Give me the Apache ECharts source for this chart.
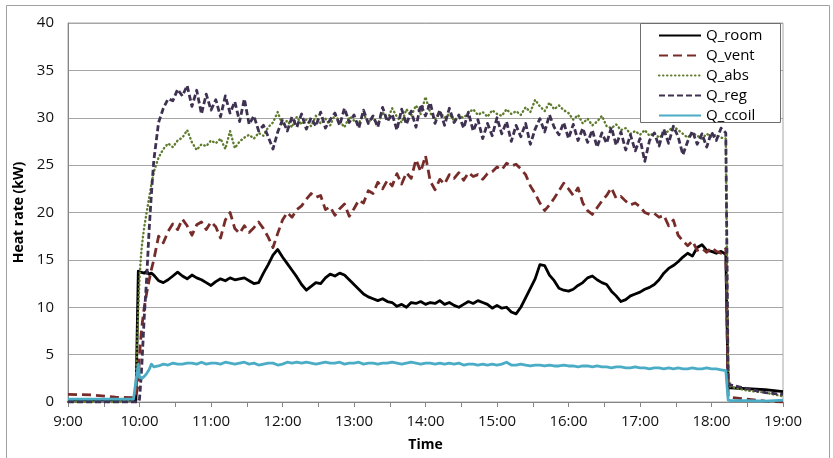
<!DOCTYPE html>
<html>
<head>
<meta charset="utf-8">
<script src="https://cdn.jsdelivr.net/npm/echarts@6/dist/echarts.min.js"></script>
<style>
html,body{margin:0;padding:0;background:#fff;}
#chart{width:833px;height:458px;}
</style>
</head>
<body>
<div id="chart"></div>
<script>
// Time in minutes after 9:00
var times = [
  0,20,40,55,57,58,59,60,61,62,64,66,68,70,
  72,76,80,84,88,92,96,100,104,108,
  112,116,120,124,128,132,136,140,144,148,
  152,156,160,164,168,172,176,180,184,188,
  192,196,200,204,208,212,216,220,224,228,
  232,236,240,244,248,252,256,260,264,268,
  272,276,280,284,288,292,296,300,304,308,
  312,316,320,324,328,332,336,340,344,348,
  352,356,360,364,368,372,376,380,384,388,
  392,396,400,404,408,412,416,420,424,428,
  432,436,440,444,448,452,456,460,464,468,
  472,476,480,484,488,492,496,500,504,508,
  512,516,520,524,528,532,536,540,544,548,
  552,
  554,556,570,585,600
];
var tickLabels = ['9:00','10:00','11:00','12:00','13:00','14:00','15:00','16:00','17:00','18:00','19:00'];
var seriesNames = ['Q_room','Q_vent','Q_abs','Q_reg','Q_ccoil'];

var qRoom = [
  0.2,0.2,0.2,0.2,0.2,0.3,13.8,13.8,13.7,13.9,13.6,13.8,13.5,13.6,
  13.4,12.8,12.6,12.9,13.3,13.7,13.3,13.0,13.4,13.1,
  12.9,12.6,12.3,12.7,13.0,12.8,13.1,12.9,13.0,13.1,
  12.8,12.5,12.6,13.6,14.5,15.5,16.1,15.3,14.6,13.9,
  13.2,12.4,11.8,12.2,12.6,12.5,13.1,13.5,13.3,13.6,
  13.4,12.9,12.4,11.9,11.4,11.1,10.9,10.7,10.9,10.6,
  10.5,10.1,10.3,10.0,10.5,10.4,10.6,10.3,10.5,10.4,
  10.7,10.3,10.5,10.2,10.0,10.3,10.6,10.4,10.7,10.5,
  10.3,9.9,10.2,9.9,10.0,9.5,9.3,10.0,11.0,12.0,
  13.0,14.5,14.4,13.4,12.8,12.0,11.8,11.7,11.9,12.3,
  12.6,13.1,13.3,12.9,12.6,12.4,11.7,11.2,10.6,10.8,
  11.2,11.4,11.6,11.9,12.1,12.4,12.9,13.6,14.1,14.4,
  14.8,15.3,15.7,15.4,16.3,16.6,16.0,15.9,15.7,15.9,
  15.6,
  1.5,1.5,1.4,1.3,1.1
];
var qVent = [
  0.8,0.75,0.5,0.45,0.5,0.6,2.0,5.0,6.5,8.0,10.0,11.5,12.8,14.0,
  15.0,17.5,16.8,18.0,18.8,18.2,19.3,18.6,17.6,18.7,
  19.0,18.2,19.0,18.5,17.3,19.2,20.0,18.3,17.8,18.6,
  17.9,18.4,19.0,18.3,17.4,16.3,17.8,19.2,20.0,19.5,
  20.3,20.7,21.4,22.0,21.6,21.8,20.3,20.6,19.7,20.4,
  20.9,19.6,20.4,21.3,21.0,22.3,22.0,23.2,22.5,23.4,
  22.8,24.1,23.0,24.2,23.6,25.6,24.3,26.0,23.3,22.4,
  23.5,23.0,24.0,23.6,24.2,23.4,24.2,23.8,24.0,23.5,
  24.1,24.3,24.8,24.5,25.2,24.9,25.1,24.6,24.0,22.8,
  22.0,21.0,20.2,20.8,21.5,22.3,23.1,22.5,21.8,22.6,
  21.0,20.2,19.8,20.5,21.2,21.8,22.6,21.5,21.7,21.2,
  20.8,21.0,20.6,20.0,19.8,19.9,19.5,19.7,18.6,19.2,
  17.6,17.0,16.5,17.0,16.0,16.2,15.8,16.3,15.9,15.7,
  16.2,
  0.6,0.5,0.3,0.1,0.0
];
var qAbs = [
  0.0,0.0,0.0,0.3,2.0,6.0,10.0,13.0,15.0,16.5,18.5,20.0,21.5,23.0,
  24.3,25.8,26.7,27.3,26.9,27.6,27.9,28.7,27.4,26.6,
  27.2,27.0,27.6,27.3,27.8,26.7,28.6,26.8,27.5,27.9,
  28.2,27.8,28.4,28.1,29.0,29.5,30.6,29.2,29.7,29.0,
  30.1,29.3,29.8,29.1,30.2,29.4,29.9,29.2,30.3,29.6,
  29.0,30.1,29.7,29.4,30.4,29.5,30.0,29.3,30.6,29.8,
  31.0,30.1,29.5,30.9,30.2,31.3,30.4,32.2,30.5,29.8,
  30.6,30.0,30.4,29.7,30.2,30.0,30.5,30.9,30.3,30.6,
  30.1,30.8,30.4,30.2,30.9,30.4,30.7,30.3,31.1,30.6,
  31.9,31.2,30.7,31.6,30.9,31.3,30.8,30.5,29.8,30.3,
  29.4,29.9,29.2,29.6,30.2,29.1,28.9,29.3,28.7,28.9,
  28.3,28.6,28.2,28.7,28.1,28.4,27.9,28.3,28.6,29.1,
  28.7,28.3,27.9,28.4,28.1,27.8,28.3,28.0,28.2,27.9,
  27.8,
  2.5,1.6,1.2,1.0,0.6
];
var qReg = [
  0,0,0,0,0,0,0,0.3,2.0,4.0,9.0,13.0,18.0,22.0,
  25.5,29.5,31.0,32.0,31.8,33.0,32.3,33.4,31.2,32.9,
  30.4,32.5,30.8,31.9,30.1,32.3,30.5,31.7,29.6,32.0,
  29.3,30.2,28.6,29.2,28.0,26.7,28.5,29.8,28.6,30.1,
  29.0,30.4,28.8,30.0,29.1,30.6,28.9,29.8,30.5,29.2,
  31.0,29.5,30.3,28.9,30.8,29.4,30.2,29.0,31.1,29.6,
  30.4,28.7,30.9,29.3,30.7,29.0,31.4,30.2,31.6,29.4,
  30.8,29.2,31.0,29.5,30.3,28.9,30.6,28.6,29.8,27.8,
  29.4,28.1,30.0,28.3,29.6,27.5,29.2,28.0,29.4,27.2,
  28.8,29.9,28.5,30.3,29.0,28.2,29.5,27.8,29.3,27.6,
  28.9,27.4,28.7,26.9,28.4,27.3,29.0,27.1,28.5,26.6,
  28.2,26.5,27.8,25.4,27.6,28.4,27.0,28.8,27.3,29.1,
  28.0,26.1,27.5,28.6,27.2,28.3,26.9,28.5,27.6,28.9,
  28.4,
  2.0,1.8,1.4,1.0,0.8
];
var qCcoil = [
  0.3,0.3,0.3,0.3,2.2,3.0,4.0,2.6,2.5,2.5,2.7,3.0,3.4,4.0,
  3.7,3.8,4.0,3.9,4.1,4.0,4.0,4.1,4.1,4.0,
  4.2,4.0,4.1,4.1,4.0,4.2,4.1,4.0,4.1,4.2,
  4.0,4.1,3.9,4.0,4.1,4.1,3.9,4.0,4.2,4.1,
  4.2,4.1,4.2,4.1,4.0,4.1,4.2,4.1,4.1,4.2,
  4.0,4.1,4.1,4.2,4.0,4.1,4.1,4.0,4.1,4.1,
  4.2,4.1,4.0,4.1,4.2,4.1,4.0,4.1,4.1,4.0,
  4.1,4.0,4.1,4.0,4.1,3.9,4.0,4.0,3.9,4.0,
  3.9,4.0,3.9,4.0,4.2,3.9,3.9,4.0,3.9,3.8,
  3.9,3.9,3.8,3.9,3.8,3.8,3.9,3.8,3.8,3.7,
  3.8,3.8,3.7,3.8,3.7,3.7,3.6,3.7,3.7,3.6,
  3.6,3.7,3.6,3.6,3.5,3.6,3.6,3.5,3.6,3.5,
  3.6,3.5,3.5,3.6,3.5,3.5,3.6,3.5,3.5,3.4,
  3.3,
  0.2,0.15,0.15,0.1,0.2
];

var FONT = '"Open Sans", "Noto Sans", sans-serif';
function pairs(vals){ return times.map(function(t,i){ return [t, vals[i]]; }); }

var chart = echarts.init(document.getElementById('chart'), null, {renderer:'canvas'});
var styles = [
  {color:'#000000', type:'solid', width:2.8, cap:'butt'},
  {color:'#772C2A', type:[9,5], width:2.8, cap:'butt'},
  {color:'#5E7B2E', type:[0.5,3.5], width:2.4, cap:'round'},
  {color:'#3F3151', type:[6,3], width:2.8, cap:'butt'},
  {color:'#4BACC6', type:'solid', width:2.8, cap:'butt'}
];
var allVals = [qRoom, qVent, qAbs, qReg, qCcoil];
var series = seriesNames.map(function(n,i){
  return {
    name:n, type:'line', data:pairs(allVals[i]), symbol:'none', showSymbol:false,
    smooth:false, animation:false,
    lineStyle:{color:styles[i].color, type:styles[i].type, width:styles[i].width, cap:styles[i].cap, join:'round'},
    itemStyle:{color:styles[i].color}
  };
});

chart.setOption({
  animation:false,
  backgroundColor:'#ffffff',
  grid:{left:68, right:50, top:23, bottom:56, show:true, borderColor:'#A6A6A6', borderWidth:1},
  xAxis:{
    type:'value', min:0, max:600, interval:30,
    name:'Time', nameLocation:'middle', nameGap:36,
    nameTextStyle:{fontFamily:FONT, fontSize:14, fontWeight:'bold', color:'#000'},
    axisLine:{show:true, lineStyle:{color:'#868686', width:1}},
    axisTick:{show:true, length:5, lineStyle:{color:'#868686'}},
    axisLabel:{fontFamily:FONT, fontSize:15, color:'#111', margin:12,
      formatter:function(v){ return (v % 60 === 0) ? tickLabels[v/60] : ''; }},
    splitLine:{show:false}
  },
  yAxis:{
    type:'value', min:0, max:40, interval:5,
    name:'Heat rate (kW)', nameLocation:'middle', nameGap:40,
    nameTextStyle:{fontFamily:FONT, fontSize:14, fontWeight:'bold', color:'#000'},
    axisLine:{show:true, lineStyle:{color:'#868686', width:1}},
    axisTick:{show:false},
    axisLabel:{fontFamily:FONT, fontSize:15, color:'#111', margin:14},
    splitLine:{show:true, lineStyle:{color:'#A6A6A6', width:1}}
  },
  legend:{
    orient:'vertical', left:658, top:28, z:10,
    itemWidth:42, itemHeight:14, itemGap:5, padding:0,
    itemStyle:{opacity:0},
    textStyle:{fontFamily:FONT, fontSize:15, color:'#000'},
    data:seriesNames
  },
  graphic:[
    {type:'rect', z:1, silent:true, shape:{x:6.5, y:5.5, width:823, height:470}, style:{fill:null, stroke:'#A0A0A0', lineWidth:1}},
    {type:'rect', z:3, silent:true, shape:{x:640.5, y:23.5, width:140, height:99}, style:{fill:'#ffffff', stroke:'#6E6E6E', lineWidth:1}}
  ],
  series:series
});
</script>
</body>
</html>
